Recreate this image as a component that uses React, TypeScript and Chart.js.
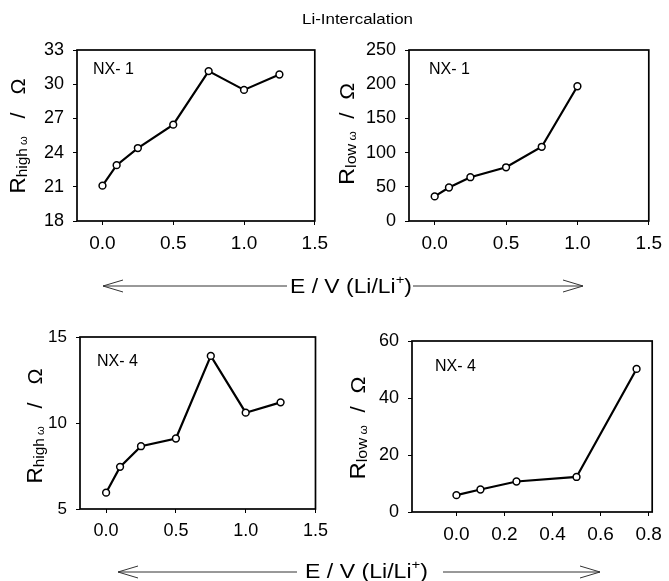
import { useEffect, useRef } from "react";
import { Chart, registerables } from "chart.js";

Chart.register(...registerables);

const FONT = '"Liberation Sans", Arial, Helvetica, sans-serif';

// Potential steps (V vs Li/Li+)
const potentialNX1High = [0, 0.1, 0.25, 0.5, 0.75, 1.0, 1.25];
const potentialNX1Low = [0, 0.1, 0.25, 0.5, 0.75, 1.0];
const potentialNX4High = [0, 0.1, 0.25, 0.5, 0.75, 1.0, 1.25];
const potentialNX4Low = [0, 0.1, 0.25, 0.5, 0.75];

// Resistances (Ohm)
const rHighNX1 = [21.1, 22.9, 24.4, 26.45, 31.15, 29.5, 30.85];
const rLowNX1 = [36, 49, 64, 78.5, 108.5, 197];
const rHighNX4 = [5.95, 7.45, 8.65, 9.1, 13.9, 10.6, 11.2];
const rLowNX4 = [5.9, 7.9, 10.7, 12.3, 50.2];

// Tick labels
const xTicksWide = [0, 0.5, 1.0, 1.5];
const xTicksNarrow = [0, 0.2, 0.4, 0.6, 0.8];
const yTicksNX1High = [18, 21, 24, 27, 30, 33];
const yTicksNX1Low = [0, 50, 100, 150, 200, 250];
const yTicksNX4High = [5, 10, 15];
const yTicksNX4Low = [0, 20, 40, 60];

const sampleNX1 = "NX- 1";
const sampleNX4 = "NX- 4";

type Part = { text: string; size: number; dy: number };

const titleHigh: Part[] = [
  { text: "R", size: 22, dy: 0 },
  { text: "high", size: 15, dy: 2 },
  { text: " \u03c9", size: 11, dy: 2 },
  { text: "   /   ", size: 21, dy: 0 },
  { text: "\u03a9", size: 21, dy: 0 },
];
const titleLow: Part[] = [
  { text: "R", size: 22, dy: 0 },
  { text: "low", size: 15, dy: 2 },
  { text: " \u03c9", size: 11, dy: 2 },
  { text: "  /  ", size: 21, dy: 0 },
  { text: "\u03a9", size: 21, dy: 0 },
];

type Spec = {
  // canvas placement on the page
  left: number;
  top: number;
  width: number;
  height: number;
  // plot box on the page
  plot: { l: number; t: number; r: number; b: number };
  xs: number[];
  ys: number[];
  xMin: number;
  xMax: number;
  xTicks: number[];
  yTicks: number[];
  xDecimals: number;
  xFont: number;
  yFont: number;
  sample: string;
  samplePos: { x: number; y: number };
  title: Part[];
  titlePos: { x: number; cy: number; len: number };
};

const panels: Spec[] = [
  {
    left: 0, top: 30, width: 335, height: 230,
    plot: { l: 77, t: 50, r: 320, b: 221 },
    xs: potentialNX1High, ys: rHighNX1,
    xMin: -0.18, xMax: 1.5, xTicks: xTicksWide, yTicks: yTicksNX1High, xDecimals: 1,
    xFont: 19, yFont: 18,
    sample: sampleNX1, samplePos: { x: 93, y: 74 },
    title: titleHigh, titlePos: { x: 10, cy: 136, len: 115 },
  },
  {
    left: 335, top: 30, width: 334, height: 230,
    plot: { l: 409, t: 50, r: 651, b: 221 },
    xs: potentialNX1Low, ys: rLowNX1,
    xMin: -0.18, xMax: 1.5, xTicks: xTicksWide, yTicks: yTicksNX1Low, xDecimals: 1,
    xFont: 19, yFont: 18,
    sample: sampleNX1, samplePos: { x: 429, y: 74 },
    title: titleLow, titlePos: { x: 339, cy: 134, len: 102 },
  },
  {
    left: 0, top: 310, width: 335, height: 235,
    plot: { l: 80, t: 337, r: 323, b: 509 },
    xs: potentialNX4High, ys: rHighNX4,
    xMin: -0.187, xMax: 1.5, xTicks: xTicksWide, yTicks: yTicksNX4High, xDecimals: 1,
    xFont: 18, yFont: 17,
    sample: sampleNX4, samplePos: { x: 97, y: 366 },
    title: titleHigh, titlePos: { x: 27, cy: 426, len: 115 },
  },
  {
    left: 335, top: 310, width: 334, height: 235,
    plot: { l: 412, t: 341, r: 655, b: 512 },
    xs: potentialNX4Low, ys: rLowNX4,
    xMin: -0.185, xMax: 0.815, xTicks: xTicksNarrow, yTicks: yTicksNX4Low, xDecimals: 1,
    xFont: 19, yFont: 18,
    sample: sampleNX4, samplePos: { x: 435, y: 371 },
    title: titleLow, titlePos: { x: 350, cy: 428, len: 103 },
  },
];

function drawRotatedTitle(ctx: CanvasRenderingContext2D, parts: Part[], x: number, cy: number, len: number) {
  ctx.save();
  let total = 0;
  const widths = parts.map((p) => {
    ctx.font = `${p.size}px ${FONT}`;
    const w = ctx.measureText(p.text).width;
    total += w;
    return w;
  });
  const k = len / total;
  const baseline = 15; // distance of the baseline from the label's outer edge
  ctx.translate(x + baseline, cy);
  ctx.rotate(-Math.PI / 2);
  ctx.scale(k, 1);
  ctx.fillStyle = "#000";
  ctx.textBaseline = "alphabetic";
  ctx.textAlign = "left";
  let pos = -total / 2;
  parts.forEach((p, i) => {
    ctx.font = `${p.size}px ${FONT}`;
    ctx.fillText(p.text, pos, p.dy);
    pos += widths[i];
  });
  ctx.restore();
}

function Panel({ spec }: { spec: Spec }) {
  const ref = useRef<HTMLCanvasElement>(null);

  useEffect(() => {
    const canvas = ref.current;
    if (!canvas) return;
    const padTop = spec.plot.t - spec.top;
    const padRight = spec.left + spec.width - spec.plot.r;
    const yWidth = spec.plot.l - spec.left;
    const xHeight = spec.top + spec.height - spec.plot.b;

    const decor = {
      id: "panelDecor",
      beforeDatasetsDraw(chart: Chart) {
        const { ctx, chartArea } = chart;
        ctx.save();
        ctx.strokeStyle = "#000";
        ctx.lineWidth = 1.7;
        ctx.strokeRect(chartArea.left, chartArea.top, chartArea.right - chartArea.left, chartArea.bottom - chartArea.top);
        ctx.restore();
      },
      afterDraw(chart: Chart) {
        const { ctx } = chart;
        ctx.save();
        ctx.fillStyle = "#000";
        ctx.font = `16px ${FONT}`;
        ctx.textBaseline = "alphabetic";
        ctx.textAlign = "left";
        ctx.fillText(spec.sample, spec.samplePos.x - spec.left, spec.samplePos.y - spec.top);
        ctx.restore();
        drawRotatedTitle(ctx, spec.title, spec.titlePos.x - spec.left, spec.titlePos.cy - spec.top, spec.titlePos.len);
      },
    };

    const chart = new Chart(canvas, {
      type: "scatter",
      data: {
        datasets: [
          {
            data: spec.xs.map((x, i) => ({ x, y: spec.ys[i] })),
            showLine: true,
            borderColor: "#000",
            borderWidth: 2.2,
            pointRadius: 3.4,
            pointBorderWidth: 1.5,
            pointBackgroundColor: "#fff",
            pointBorderColor: "#000",
            tension: 0,
          },
        ],
      },
      options: {
        animation: false,
        responsive: false,
        devicePixelRatio: 1,
        layout: { padding: { top: padTop, right: padRight, left: 0, bottom: 0 } },
        plugins: { legend: { display: false }, tooltip: { enabled: false }, title: { display: false } },
        scales: {
          x: {
            type: "linear",
            min: spec.xMin,
            max: spec.xMax,
            afterBuildTicks: (s: any) => {
              s.ticks = spec.xTicks.map((v) => ({ value: v }));
            },
            afterFit: (s: any) => {
              s.height = xHeight;
            },
            ticks: {
              color: "#000",
              font: { family: FONT, size: spec.xFont },
              padding: 7,
              maxRotation: 0,
              autoSkip: false,
              callback: (v: any) => Number(v).toFixed(spec.xDecimals),
            },
            grid: { display: true, drawOnChartArea: false, drawTicks: true, tickLength: 4, color: "#000", lineWidth: 1 },
            border: { display: false },
          },
          y: {
            type: "linear",
            min: spec.yTicks[0],
            max: spec.yTicks[spec.yTicks.length - 1],
            afterBuildTicks: (s: any) => {
              s.ticks = spec.yTicks.map((v) => ({ value: v }));
            },
            afterFit: (s: any) => {
              s.width = yWidth;
            },
            ticks: {
              color: "#000",
              font: { family: FONT, size: spec.yFont },
              padding: 9,
              autoSkip: false,
              callback: (v: any) => String(v),
            },
            grid: { display: true, drawOnChartArea: false, drawTicks: true, tickLength: 4, color: "#000", lineWidth: 1 },
            border: { display: false },
          },
        },
      },
      plugins: [decor],
    });
    return () => chart.destroy();
  }, [spec]);

  return (
    <canvas
      ref={ref}
      width={spec.width}
      height={spec.height}
      style={{ position: "absolute", left: spec.left, top: spec.top, width: spec.width, height: spec.height }}
    />
  );
}

type ArrowRow = { y: number; leftTip: number; leftEnd: number; textX: number; textLen: number; baseline: number; rightStart: number; rightTip: number };

const arrowRows: ArrowRow[] = [
  { y: 286, leftTip: 103, leftEnd: 287, textX: 290, textLen: 122, baseline: 293, rightStart: 413, rightTip: 583 },
  { y: 572, leftTip: 118, leftEnd: 297, textX: 305, textLen: 123, baseline: 578, rightStart: 443, rightTip: 600 },
];

function PotentialArrow({ row }: { row: ArrowRow }) {
  const head = 20;
  const half = 6;
  const stroke = "#333";
  return (
    <g>
      <line x1={row.leftTip} y1={row.y} x2={row.leftEnd} y2={row.y} stroke={stroke} strokeWidth={1} />
      <polyline
        points={`${row.leftTip + head},${row.y - half} ${row.leftTip},${row.y} ${row.leftTip + head},${row.y + half}`}
        fill="none"
        stroke={stroke}
        strokeWidth={1}
      />
      <text x={row.textX} y={row.baseline} fontFamily={FONT} fontSize={20} fill="#000" textLength={row.textLen} lengthAdjust="spacingAndGlyphs">
        E / V (Li/Li
        <tspan fontSize={13} dy={-9}>+</tspan>
        <tspan dy={9}>)</tspan>
      </text>
      <line x1={row.rightStart} y1={row.y} x2={row.rightTip} y2={row.y} stroke={stroke} strokeWidth={1} />
      <polyline
        points={`${row.rightTip - head},${row.y - half} ${row.rightTip},${row.y} ${row.rightTip - head},${row.y + half}`}
        fill="none"
        stroke={stroke}
        strokeWidth={1}
      />
    </g>
  );
}

export default function App() {
  return (
    <div style={{ position: "absolute", left: 0, top: 0, width: 669, height: 581, background: "#fff", overflow: "hidden" }}>
      {panels.map((p, i) => (
        <Panel key={i} spec={p} />
      ))}
      <svg width={669} height={581} style={{ position: "absolute", left: 0, top: 0, pointerEvents: "none" }}>
        <text x={302} y={24} fontFamily={FONT} fontSize={14} fill="#000" textLength={111} lengthAdjust="spacingAndGlyphs">
          Li-Intercalation
        </text>
        {arrowRows.map((r, i) => (
          <PotentialArrow key={i} row={r} />
        ))}
      </svg>
    </div>
  );
}
